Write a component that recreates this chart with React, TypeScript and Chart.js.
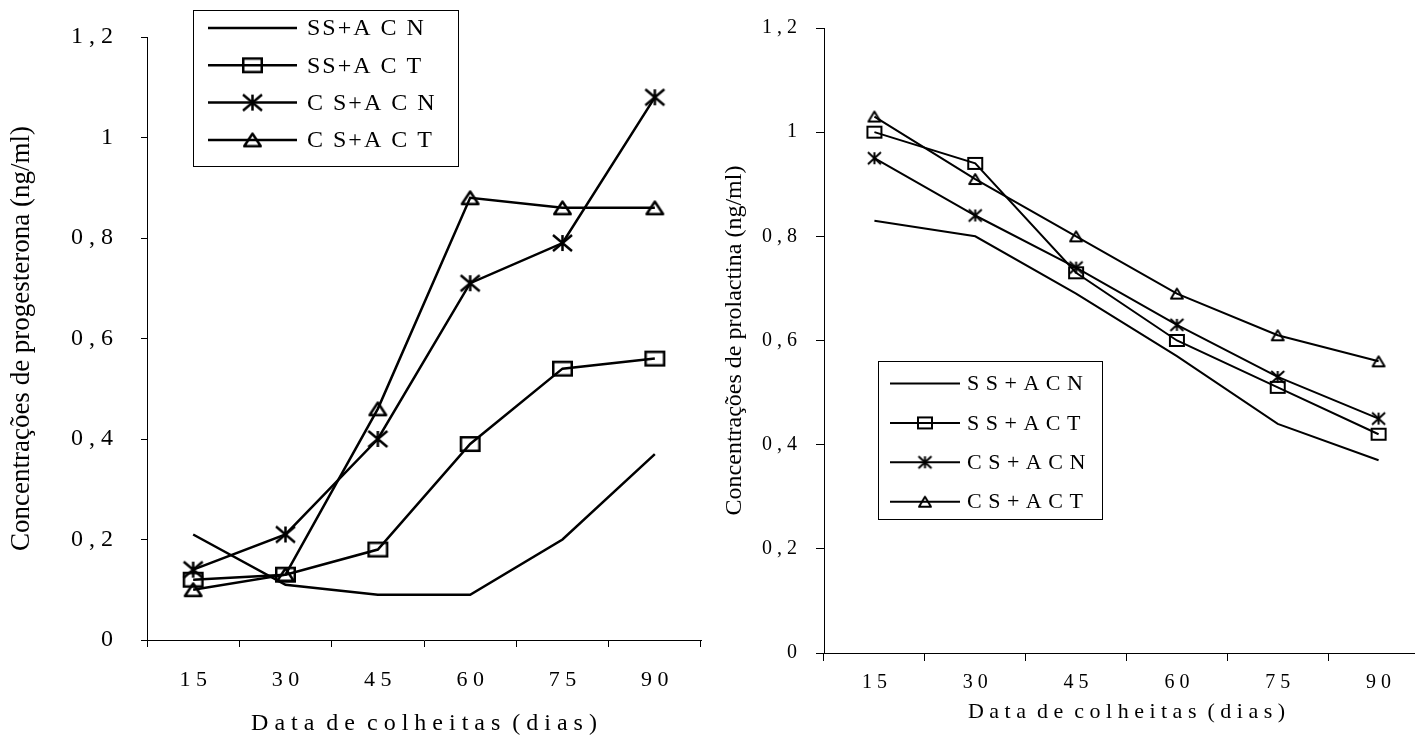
import React, { useEffect, useRef } from "react";
import { Chart, registerables } from "chart.js";

Chart.register(...registerables);

// ---------- data ----------
const CATEGORIES = [15, 30, 45, 60, 75, 90];
const Y_TICKS_MAX = 1.2;
const Y_STEP = 0.2;

const SERIES_NAMES = ["SS+ACN", "SS+ACT", "CS+ACN", "CS+ACT"];
const LEGEND_LABELS_LEFT = ["SS+A C N", "SS+A C T", "C S+A C N", "C S+A C T"];
const LEGEND_LABELS_RIGHT = ["S S + A C N", "S S + A C T", "C S + A C N", "C S + A C T"];

// Progesterona (left chart)
const PROG_SS_ACN = [0.21, 0.11, 0.09, 0.09, 0.2, 0.37];
const PROG_SS_ACT = [0.12, 0.13, 0.18, 0.39, 0.54, 0.56];
const PROG_CS_ACN = [0.14, 0.21, 0.4, 0.71, 0.79, 1.08];
const PROG_CS_ACT = [0.1, 0.13, 0.46, 0.88, 0.86, 0.86];

// Prolactina (right chart)
const PROL_SS_ACN = [0.83, 0.8, 0.69, 0.57, 0.44, 0.37];
const PROL_SS_ACT = [1.0, 0.94, 0.73, 0.6, 0.51, 0.42];
const PROL_CS_ACN = [0.95, 0.84, 0.74, 0.63, 0.53, 0.45];
const PROL_CS_ACT = [1.03, 0.91, 0.8, 0.69, 0.61, 0.56];

const X_TITLE = "Data de colheitas (dias)";
const Y_TITLE_LEFT = "Concentrações de progesterona (ng/ml)";
const Y_TITLE_RIGHT = "Concentrações de prolactina (ng/ml)";

const FONT = '"Liberation Serif", "Times New Roman", serif';

// ---------- helpers ----------
function spaced(text: string): string {
  return text
    .split(" ")
    .map((w) => w.split("").join(" "))
    .join("  ");
}

function yTick(v: number): string {
  const s = (Math.round(v * 10) / 10).toString();
  return s.includes(".") ? s.replace(".", " , ") : s;
}

function makeMarker(kind: string, w: number, h: number, lw: number): HTMLCanvasElement {
  const pad = Math.ceil(lw) + 2;
  const c = document.createElement("canvas");
  c.width = Math.ceil(w + 2 * pad);
  c.height = Math.ceil(h + 2 * pad);
  const g = c.getContext("2d") as CanvasRenderingContext2D;
  g.strokeStyle = "#000";
  g.lineWidth = lw;
  const cx = c.width / 2;
  const cy = c.height / 2;
  const iw = kind === "star" ? w : w - lw;
  const ih = kind === "star" ? h : h - lw;
  const l = cx - iw / 2, r = cx + iw / 2, t = cy - ih / 2, b = cy + ih / 2;
  g.beginPath();
  if (kind === "square") {
    g.rect(l, t, iw, ih);
  } else if (kind === "triangle") {
    g.lineJoin = "round";
    g.moveTo(cx, t);
    g.lineTo(r, b);
    g.lineTo(l, b);
    g.closePath();
  } else {
    g.moveTo(cx, t);
    g.lineTo(cx, b);
    g.moveTo(l, t);
    g.lineTo(r, b);
    g.moveTo(r, t);
    g.lineTo(l, b);
  }
  g.stroke();
  return c;
}

type LegendCfg = {
  x: number; y: number; w: number; h: number;
  lineX1: number; lineX2: number; textX: number;
  rowY0: number; rowStep: number;
  font: string; letterSpacing: string; labels: string[];
};

function boxLegend(cfg: LegendCfg) {
  return {
    id: "boxLegend",
    afterDraw(chart: any) {
      const ctx = chart.ctx as CanvasRenderingContext2D;
      ctx.save();
      ctx.fillStyle = "#fff";
      ctx.fillRect(cfg.x, cfg.y, cfg.w, cfg.h);
      ctx.strokeStyle = "#000";
      ctx.lineWidth = 1;
      ctx.strokeRect(cfg.x + 0.5, cfg.y + 0.5, cfg.w, cfg.h);
      chart.data.datasets.forEach((ds: any, i: number) => {
        const y = cfg.rowY0 + i * cfg.rowStep;
        ctx.beginPath();
        ctx.lineWidth = ds.borderWidth;
        ctx.strokeStyle = ds.borderColor;
        ctx.moveTo(cfg.lineX1, y);
        ctx.lineTo(cfg.lineX2, y);
        ctx.stroke();
        const img = ds.pointStyle;
        if (img && typeof img === "object") {
          ctx.drawImage(img, (cfg.lineX1 + cfg.lineX2) / 2 - img.width / 2, y - img.height / 2);
        }
        ctx.font = cfg.font;
        ctx.fillStyle = "#000";
        ctx.textBaseline = "middle";
        ctx.textAlign = "left";
        (ctx as any).letterSpacing = cfg.letterSpacing;
        ctx.fillText(cfg.labels[i], cfg.textX, y + 1);
        (ctx as any).letterSpacing = "0px";
      });
      ctx.restore();
    },
  };
}

type ChartCfg = {
  series: number[][];
  markers: (HTMLCanvasElement | null)[];
  lineWidth: number;
  yTitle: string;
  yTitleSize: number; yTitlePad: number;
  yTickSize: number; yTickLen: number; yTickPad: number;
  xTickSize: number; xTickLen: number; xTickPad: number;
  xTitleSize: number; xTitlePad: number;
  yWidth: number; xHeight: number;
  padTop: number; padRight: number;
  legend: LegendCfg;
};

function buildChart(canvas: HTMLCanvasElement, c: ChartCfg) {
  return new Chart(canvas, {
    type: "line",
    data: {
      labels: CATEGORIES.map(String),
      datasets: c.series.map((vals, i) => ({
        label: SERIES_NAMES[i],
        data: vals,
        borderColor: "#000",
        backgroundColor: "transparent",
        borderWidth: c.lineWidth,
        tension: 0,
        fill: false,
        pointStyle: (c.markers[i] || "circle") as any,
        pointRadius: c.markers[i] ? 9 : 0,
        pointHoverRadius: c.markers[i] ? 9 : 0,
      })),
    },
    options: {
      responsive: false,
      animation: false,
      devicePixelRatio: 1,
      layout: { padding: { top: c.padTop, right: c.padRight, left: 0, bottom: 0 } },
      plugins: {
        legend: { display: false },
        tooltip: { enabled: false },
      },
      scales: {
        x: {
          type: "category",
          offset: true,
          grid: {
            display: true,
            offset: true,
            drawOnChartArea: false,
            drawTicks: true,
            tickLength: c.xTickLen,
            color: "#000",
            lineWidth: 1,
          },
          border: { display: true, color: "#000", width: 1 },
          ticks: {
            color: "#000",
            font: { family: FONT, size: c.xTickSize },
            padding: c.xTickPad,
            maxRotation: 0,
            autoSkip: false,
            callback: (_v: any, idx: number) => String(CATEGORIES[idx]).split("").join(" "),
          },
          title: {
            display: true,
            text: spaced(X_TITLE),
            color: "#000",
            font: { family: FONT, size: c.xTitleSize },
            padding: { top: 0, bottom: c.xTitlePad },
          },
          afterFit: (scale: any) => {
            scale.height = c.xHeight;
            scale.paddingLeft = 0;
            scale.paddingRight = 0;
          },
        },
        y: {
          type: "linear",
          min: 0,
          max: Y_TICKS_MAX,
          grid: {
            display: true,
            drawOnChartArea: false,
            drawTicks: true,
            tickLength: c.yTickLen,
            color: "#000",
            lineWidth: 1,
          },
          border: { display: true, color: "#000", width: 1 },
          ticks: {
            stepSize: Y_STEP,
            color: "#000",
            font: { family: FONT, size: c.yTickSize },
            padding: c.yTickPad,
            callback: (v: any) => yTick(Number(v)),
          },
          title: {
            display: true,
            text: c.yTitle,
            color: "#000",
            font: { family: FONT, size: c.yTitleSize },
            padding: { top: c.yTitlePad, bottom: 0 },
          },
          afterFit: (scale: any) => {
            scale.width = c.yWidth;
            scale.paddingTop = 0;
            scale.paddingBottom = 0;
          },
        },
      },
    },
    plugins: [boxLegend(c.legend)],
  } as any);
}

export default function App() {
  const leftRef = useRef<HTMLCanvasElement>(null);
  const rightRef = useRef<HTMLCanvasElement>(null);

  useEffect(() => {
    const lw = 2.5;
    const leftMarkers = [
      null,
      makeMarker("square", 21, 16, lw),
      makeMarker("star", 19, 16, lw),
      makeMarker("triangle", 19, 15, lw),
    ];
    const rw = 2;
    const rightMarkers = [
      null,
      makeMarker("square", 16, 13, rw),
      makeMarker("star", 13, 12, rw),
      makeMarker("triangle", 14, 12, rw),
    ];

    const left = buildChart(leftRef.current as HTMLCanvasElement, {
      series: [PROG_SS_ACN, PROG_SS_ACT, PROG_CS_ACN, PROG_CS_ACT],
      markers: leftMarkers,
      lineWidth: lw,
      yTitle: Y_TITLE_LEFT,
      yTitleSize: 27, yTitlePad: 6,
      yTickSize: 24, yTickLen: 6, yTickPad: 28,
      xTickSize: 22, xTickLen: 7, xTickPad: 20,
      xTitleSize: 24, xTitlePad: 4,
      yWidth: 147, xHeight: 102,
      padTop: 37, padRight: 12,
      legend: {
        x: 193, y: 10, w: 265, h: 156,
        lineX1: 208, lineX2: 297, textX: 307,
        rowY0: 28, rowStep: 37.3,
        font: `24px ${FONT}`, letterSpacing: "2px",
        labels: LEGEND_LABELS_LEFT,
      },
    });

    const right = buildChart(rightRef.current as HTMLCanvasElement, {
      series: [PROL_SS_ACN, PROL_SS_ACT, PROL_CS_ACN, PROL_CS_ACT],
      markers: rightMarkers,
      lineWidth: rw,
      yTitle: Y_TITLE_RIGHT,
      yTitleSize: 24, yTitlePad: 7,
      yTickSize: 20, yTickLen: 8, yTickPad: 19,
      xTickSize: 20, xTickLen: 8, xTickPad: 10,
      xTitleSize: 22, xTitlePad: 17,
      yWidth: 111, xHeight: 89,
      padTop: 28, padRight: 9,
      legend: {
        x: 878 - 713, y: 361, w: 224, h: 158,
        lineX1: 890 - 713, lineX2: 960 - 713, textX: 967 - 713,
        rowY0: 383.5, rowStep: 39.4,
        font: `22px ${FONT}`, letterSpacing: "0.5px",
        labels: LEGEND_LABELS_RIGHT,
      },
    });

    return () => {
      left.destroy();
      right.destroy();
    };
  }, []);

  return (
    <div
      style={{
        position: "fixed",
        left: 0,
        top: 0,
        width: 1426,
        height: 742,
        overflow: "hidden",
        background: "#fff",
      }}
    >
      <canvas
        ref={leftRef}
        width={713}
        height={742}
        style={{ position: "absolute", left: 0, top: 0, display: "block" }}
      />
      <div
        style={{
          position: "absolute",
          left: 713,
          top: 0,
          width: 702,
          height: 742,
          overflow: "hidden",
        }}
      >
        <canvas
          ref={rightRef}
          width={727}
          height={742}
          style={{ position: "absolute", left: 0, top: 0, display: "block" }}
        />
      </div>
    </div>
  );
}
